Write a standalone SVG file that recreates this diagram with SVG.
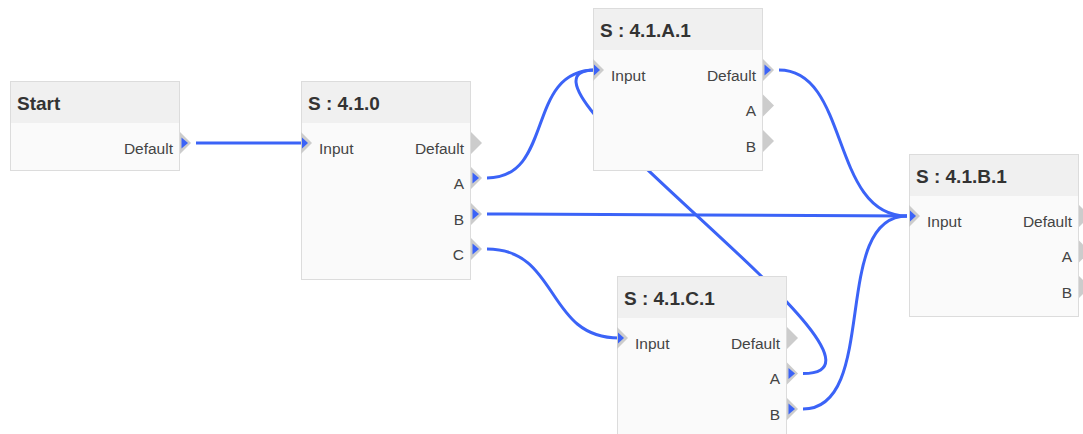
<svg xmlns="http://www.w3.org/2000/svg" width="1083" height="434" viewBox="0 0 1083 434">
<style>
.body{fill:#fafafa;stroke:#dcdcdc;stroke-width:1}
.head{fill:#f0f0f0}
.title{font-family:"Liberation Sans",Arial,sans-serif;font-weight:bold;font-size:19px;fill:#333}
.lbl{font-family:"Liberation Sans",Arial,sans-serif;font-size:15.5px;fill:#444}
.r{text-anchor:end}
.port{fill:#cccccc}
.on{fill:#3b63f7}
.conn{fill:none;stroke:#3b63f7;stroke-width:3}
</style>
<rect width="1083" height="434" fill="#ffffff"/>
<g id="connectors">
<path class="conn" d="M196,143 L303,143"/>
<path class="conn" d="M487,178 C555,178 525,70 595,70"/>
<path class="conn" d="M487,214 C700,214 700,216 907,216"/>
<path class="conn" d="M487,249 C560,249 545,338 619,338"/>
<path class="conn" d="M779,70 C850,70 830,216 907,216"/>
<path class="conn" d="M803,373.5 C930,373.5 480,70 595,70"/>
<path class="conn" d="M803,409 C880,409 830,216 907,216"/>
</g>
<g id="node-start">
<rect class="body" x="10.5" y="81.5" width="169" height="89"/>
<rect class="head" x="11" y="82" width="168" height="41"/>
<text class="title" x="17" y="109.5">Start</text>
<text class="lbl r" x="173" y="153.5">Default</text>
<polygon class="port" points="180,132 191,143 180,154"/>
<polygon class="on" points="181.5,137.5 188,143 181.5,148.5"/>
</g>
<g id="node-410">
<rect class="body" x="301.5" y="81.5" width="169" height="198"/>
<rect class="head" x="302" y="82" width="168" height="41"/>
<text class="title" x="308" y="109.5">S : 4.1.0</text>
<text class="lbl" x="319" y="153.5">Input</text>
<text class="lbl r" x="464" y="153.5">Default</text>
<text class="lbl r" x="464" y="189">A</text>
<text class="lbl r" x="464" y="224.5">B</text>
<text class="lbl r" x="464" y="260">C</text>
<polygon class="port" points="301,132 312,143 301,154"/>
<polygon class="on" points="302,137.5 308,143 302,148.5"/>
<polygon class="port" points="471,132 482,143 471,154"/>
<polygon class="port" points="471,167 482,178 471,189"/>
<polygon class="on" points="472.5,172.5 479,178 472.5,183.5"/>
<polygon class="port" points="471,203 482,214 471,225"/>
<polygon class="on" points="472.5,208.5 479,214 472.5,219.5"/>
<polygon class="port" points="471,238 482,249 471,260"/>
<polygon class="on" points="472.5,243.5 479,249 472.5,254.5"/>
</g>
<g id="node-41a1">
<rect class="body" x="593.5" y="8.5" width="169" height="162"/>
<rect class="head" x="594" y="9" width="168" height="41"/>
<text class="title" x="600" y="36.5">S : 4.1.A.1</text>
<text class="lbl" x="611" y="80.5">Input</text>
<text class="lbl r" x="756" y="80.5">Default</text>
<text class="lbl r" x="756" y="116">A</text>
<text class="lbl r" x="756" y="151.5">B</text>
<polygon class="port" points="593,59 604,70 593,81"/>
<polygon class="on" points="594,64.5 600,70 594,75.5"/>
<polygon class="port" points="763,59 774,70 763,81"/>
<polygon class="on" points="764.5,64.5 771,70 764.5,75.5"/>
<polygon class="port" points="763,94.5 774,105.5 763,116.5"/>
<polygon class="port" points="763,130 774,141 763,152"/>
</g>
<g id="node-41b1">
<rect class="body" x="909.5" y="154.5" width="169" height="162"/>
<rect class="head" x="910" y="155" width="168" height="41"/>
<text class="title" x="916" y="182.5">S : 4.1.B.1</text>
<text class="lbl" x="927" y="226.5">Input</text>
<text class="lbl r" x="1072" y="226.5">Default</text>
<text class="lbl r" x="1072" y="262">A</text>
<text class="lbl r" x="1072" y="297.5">B</text>
<polygon class="port" points="909,205 920,216 909,227"/>
<polygon class="on" points="910,210.5 916,216 910,221.5"/>
<polygon class="port" points="1079,205 1090,216 1079,227"/>
<polygon class="port" points="1079,240.5 1090,251.5 1079,262.5"/>
<polygon class="port" points="1079,276 1090,287 1079,298"/>
</g>
<g id="node-41c1">
<rect class="body" x="617.5" y="276.5" width="169" height="170"/>
<rect class="head" x="618" y="277" width="168" height="41"/>
<text class="title" x="624" y="304.5">S : 4.1.C.1</text>
<text class="lbl" x="635" y="348.5">Input</text>
<text class="lbl r" x="780" y="348.5">Default</text>
<text class="lbl r" x="780" y="384">A</text>
<text class="lbl r" x="780" y="419.5">B</text>
<polygon class="port" points="617,327 628,338 617,349"/>
<polygon class="on" points="618,332.5 624,338 618,343.5"/>
<polygon class="port" points="787,327 798,338 787,349"/>
<polygon class="port" points="787,362.5 798,373.5 787,384.5"/>
<polygon class="on" points="788.5,368 795,373.5 788.5,379"/>
<polygon class="port" points="787,398 798,409 787,420"/>
<polygon class="on" points="788.5,403.5 795,409 788.5,414.5"/>
</g>
</svg>
